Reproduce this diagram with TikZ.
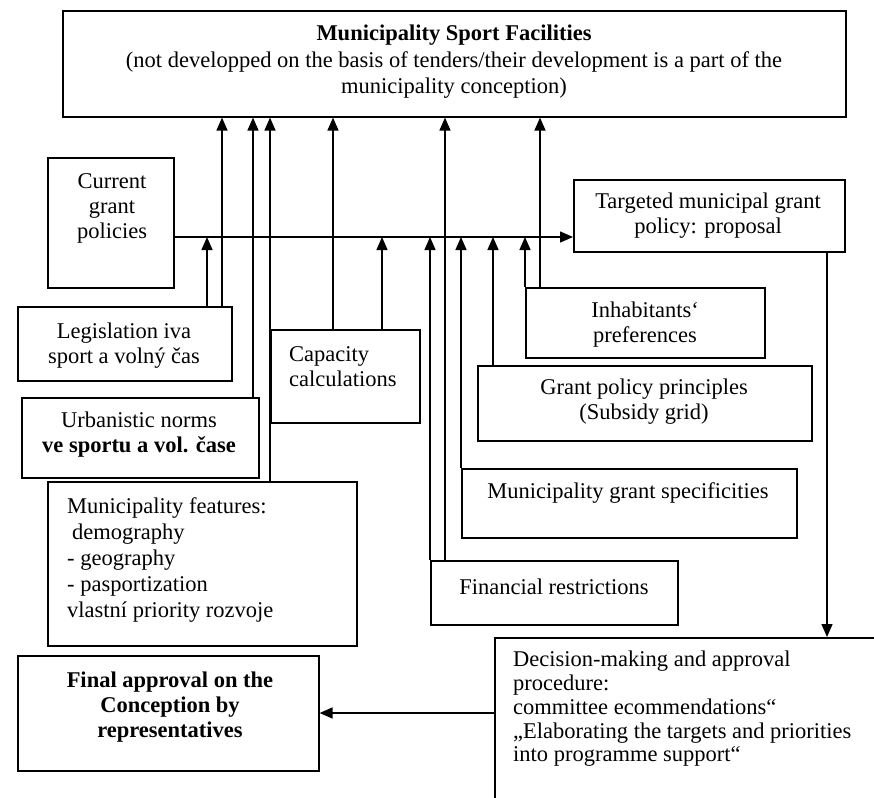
\documentclass[tikz,border=0pt]{standalone}
\usepackage{fontspec}
\setmainfont{Liberation Serif}
\usetikzlibrary{arrows.meta}
\begin{document}
\begin{tikzpicture}[x=1pt,y=-1pt,
  box/.style={draw,line width=1.6pt,inner sep=0pt,anchor=north west},
  txt/.style={inner sep=0pt,align=center,font=\fontsize{22.5}{25}\selectfont},
  conn/.style={line width=1.4pt},
  arr/.style={conn,-{Triangle[length=13pt,width=11pt]}}]
\useasboundingbox (0,0) rectangle (874,797);
% boxes
\node[box,minimum width=783pt,minimum height=106pt] (top) at (62,10) {};
\node[box,minimum width=126pt,minimum height=130pt] (cur) at (47,157) {};
\node[box,minimum width=271pt,minimum height=72pt] (tgt) at (573,179) {};
\node[box,minimum width=239pt,minimum height=70pt] (inh) at (525,287) {};
\node[box,minimum width=214pt,minimum height=74pt] (leg) at (17,306) {};
\node[box,minimum width=149pt,minimum height=93pt] (cap) at (270,329) {};
\node[box,minimum width=334pt,minimum height=75pt] (gpp) at (477,365) {};
\node[box,minimum width=237pt,minimum height=80pt] (urb) at (21,397) {};
\node[box,minimum width=335pt,minimum height=69pt] (mgs) at (461,468) {};
\node[box,minimum width=309pt,minimum height=164pt] (mf) at (47,481) {};
\node[box,minimum width=247pt,minimum height=64pt] (fin) at (430,560) {};
\node[box,minimum width=301pt,minimum height=115pt] (fa) at (17,655) {};
\node[box,minimum width=420pt,minimum height=220pt] (dec) at (494,637) {};
% texts
\node[txt,font=\fontsize{22.5}{26.5}\selectfont] (topT) at (454,62) {\textbf{Municipality Sport Facilities}\\(not developped on the basis of tenders/their development is a part of the\\municipality conception)};
\node[txt] (curT) at (112,208) {Current\\grant\\policies};
\node[txt] (tgtT) at (708,216) {Targeted municipal grant\\policy: proposal};
\node[txt] (inhT) at (645,325) {Inhabitants‘\\preferences};
\node[txt] (legT) at (124,346) {Legislation iva\\sport a volný čas};
\node[txt,anchor=west,align=left] (capT) at (289,367) {Capacity\\calculations};
\node[txt] (gppT) at (644,402) {Grant policy principles\\(Subsidy grid)};
\node[txt] (urbT) at (139,435) {Urbanistic norms\\\textbf{ve sportu a vol. čase}};
\node[txt] (mgsT) at (628,493) {Municipality grant specificities};
\node[txt,anchor=west,align=left,font=\fontsize{22.5}{26.2}\selectfont] (mfT) at (67,560) {Municipality features:\\\hspace*{5pt}demography\\- geography\\- pasportization\\vlastní priority rozvoje};
\node[txt] (finT) at (554,587) {Financial restrictions};
\node[txt,font=\fontsize{22.5}{25}\selectfont\bfseries] (faT) at (170,707) {Final approval on the\\Conception by\\representatives};
\node[txt,anchor=west,align=left,font=\fontsize{22.5}{23.7}\selectfont] (decT) at (513,709) {Decision-making and approval\\procedure:\\committee ecommendations“\\„Elaborating the targets and priorities\\into programme support“};
% helper coordinates
\coordinate (ml) at (0,237);
\coordinate (dy) at (0,713);
\foreach \x in {207,222,253,270,333,382,430,445,461,493,525,540,827}{\coordinate (x\x) at (\x,0);}
% main line
\draw[arr] (cur.east |- ml) -- (tgt.west |- ml);
% into main line
\draw[arr] (leg.north -| x207) -- (ml -| x207);
\draw[arr] (cap.north -| x382) -- (ml -| x382);
\draw[arr] (fin.north -| x430) -- (ml -| x430);
\draw[arr] (mgs.north -| x461) -- (ml -| x461);
\draw[arr] (gpp.north -| x493) -- (ml -| x493);
\draw[arr] (inh.north -| x525) -- (ml -| x525);
% into top box
\draw[arr] (leg.north -| x222) -- (top.south -| x222);
\draw[arr] (urb.north -| x253) -- (top.south -| x253);
\draw[arr] (mf.north -| x270) -- (top.south -| x270);
\draw[arr] (cap.north -| x333) -- (top.south -| x333);
\draw[arr] (fin.north -| x445) -- (top.south -| x445);
\draw[arr] (inh.north -| x540) -- (top.south -| x540);
% right side
\draw[arr] (tgt.south -| x827) -- (dec.north -| x827);
\draw[arr] (dec.west |- dy) -- (fa.east |- dy);
\end{tikzpicture}
\end{document}
